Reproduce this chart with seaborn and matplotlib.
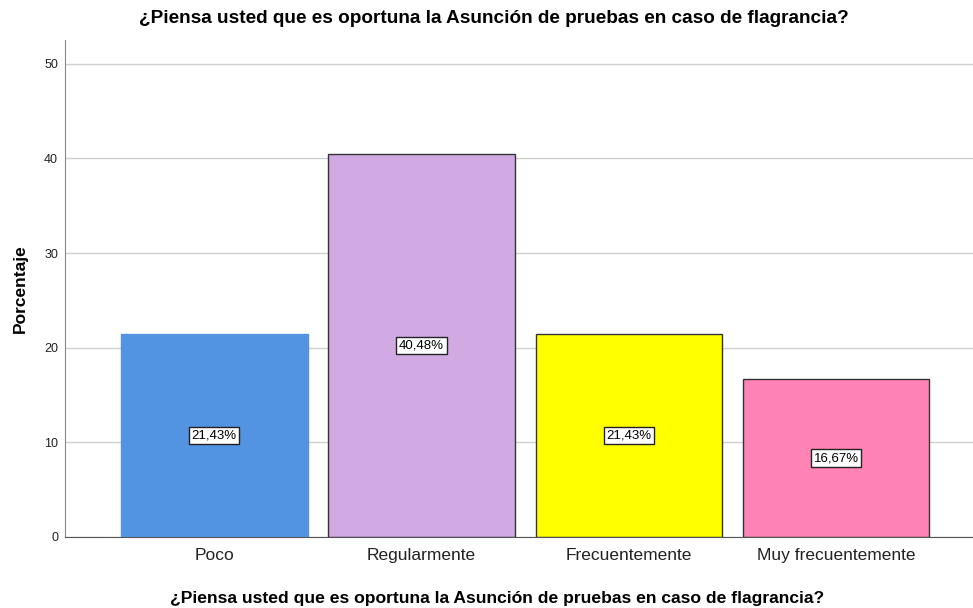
import matplotlib
matplotlib.use('Agg')
import matplotlib.pyplot as plt
import seaborn as sns
import pandas as pd

# values
categories = ['Poco', 'Regularmente', 'Frecuentemente', 'Muy frecuentemente']
percent = [21.43, 40.48, 21.43, 16.67]
colors = ['#5294E2', '#D1A9E3', '#FFFF00', '#FF83B4']
edges = ['#5294E2', '#333333', '#333333', '#333333']
y_ticks = [0, 10, 20, 30, 40, 50]

question = '¿Piensa usted que es oportuna la Asunción de pruebas en caso de flagrancia?'

sns.set_style('white')
plt.rcParams['font.family'] = ['Liberation Sans', 'DejaVu Sans']
plt.rcParams['text.color'] = 'black'
plt.rcParams['axes.labelcolor'] = 'black'

df = pd.DataFrame({'cat': categories, 'pct': percent})

fig = plt.figure(figsize=(9.73, 6.08), dpi=100)
ax = fig.add_axes([0.0668, 0.1168, 0.9332, 0.8172])

sns.barplot(data=df, x='cat', y='pct', hue='cat', palette=colors,
            legend=False, width=0.9, saturation=1, ax=ax)

for bar, ec in zip(ax.patches, edges):
    bar.set_edgecolor(ec)
    bar.set_linewidth(1.0)

for i, v in enumerate(percent):
    ax.text(i, v / 2, f'{v:.2f}%'.replace('.', ','), ha='center', va='center',
            fontsize=9.5, color='black',
            bbox=dict(boxstyle='square,pad=0.2', fc='white', ec='#222222', lw=1))

ax.set_xlim(-0.72, 3.66)
ax.set_ylim(0, 52.5)
ax.set_yticks(y_ticks)
ax.yaxis.grid(True, color='#D0D0D0', lw=1)
ax.set_axisbelow(True)
ax.tick_params(axis='y', labelsize=9, length=0, pad=5, labelcolor='#222222')
ax.tick_params(axis='x', labelsize=12.5, length=0, pad=8, labelcolor='#222222')

for s in ['top', 'right']:
    ax.spines[s].set_visible(False)
ax.spines['left'].set_color('#888888')
ax.spines['bottom'].set_color('#555555')

ax.set_xlabel('')
fig.text(0.508, 0.970, question, ha='center', va='center',
         fontsize=13.7, fontweight='bold')
fig.text(0.511, 0.015, question, ha='center', va='center',
         fontsize=12.6, fontweight='bold')
ax.set_ylabel('Porcentaje', fontsize=12.5, fontweight='bold', labelpad=12)

fig.savefig('out.png', dpi=100)
